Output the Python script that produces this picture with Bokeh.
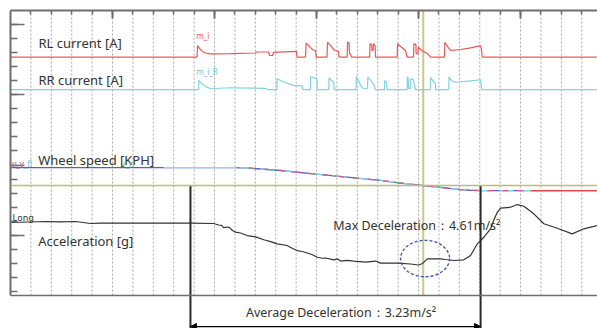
from bokeh.plotting import figure
from bokeh.models import Range1d, LinearAxis, FixedTicker, Label, Arrow, NormalHead, Span
from bokeh.embed import file_html
from bokeh.resources import INLINE

# ---- data (time in grid divisions, values in divisions relative to channel baseline) ----
rl_t = [0, 9.14, 9.17, 9.26, 9.41, 9.56, 9.80, 10.78, 12.01, 12.06, 12.65, 12.70, 12.84, 12.89, 14.02, 14.04,
        14.46, 14.49, 14.61, 14.80, 14.95, 14.98, 15.51, 15.54, 15.69, 15.88, 16.08, 16.10, 16.50, 16.52, 16.59,
        16.62, 16.67, 16.72, 17.60, 17.62, 17.70, 17.72, 17.77, 17.79, 17.87, 17.89, 18.95, 18.97, 19.12, 19.36,
        19.44, 19.75, 19.77, 19.87, 19.88, 19.97, 19.98, 20.15, 20.43, 20.59, 21.27, 21.29, 21.42, 21.57, 22.06,
        22.55, 23.04, 23.09, 23.12, 28.8]
rl_current = [0, 0, 0.83, 0.62, 0.41, 0.30, 0.24, 0.26, 0.30, 0.37, 0.37, 0.12, 0.12, 0.34, 0.41, 0,
              0, 1.0, 0.83, 0.55, 0.44, 0, 0, 1.07, 0.83, 0.48, 0.41, 0, 0, 1.07, 1.05,
              0.26, 0.19, 0, 0, 0.96, 0.91, 0.48, 0.48, 0.96, 0.83, 0, 0, 0.96, 0.76, 0.48,
              0, 0, 0.96, 0.91, 0.26, 0.26, 0.71, 0.48, 0.26, 0, 0, 1.07, 0.76, 0.48, 0.55,
              0.66, 0.83, 0.48, 0, 0]

rr_t = [0, 9.22, 9.23, 9.36, 9.56, 9.80, 10.78, 11.76, 12.50, 12.66, 13.06, 13.07, 13.33, 13.87, 14.30, 14.31,
        14.36, 14.70, 14.71, 14.78, 15.02, 15.03, 15.60, 15.61, 15.74, 15.85, 15.86, 16.94, 16.95, 17.06, 17.16,
        17.30, 17.50, 17.51, 17.65, 17.79, 17.89, 18.33, 18.34, 18.43, 18.46, 19.44, 19.45, 19.49, 19.51, 19.61,
        19.62, 19.66, 19.72, 19.75, 19.85, 20.58, 20.59, 20.69, 20.83, 20.84, 21.48, 21.49, 21.57, 21.72, 22.06,
        22.55, 23.04, 23.06, 23.09, 28.8]
rr_current = [0, 0, 0.66, 0.45, 0.24, 0.07, 0.14, 0.12, 0.09, 0, 0, 0.78, 0.59, 0.31, 0.27, 0.07,
              0, 0, 0.95, 0.88, 0.78, 0, 0, 0.86, 0.66, 0.52, 0, 0, 0.95, 0.66, 0.31,
              0.07, 0.07, 0.90, 0.66, 0.42, 0, 0, 0.66, 0.52, 0, 0, 0.90, 0.88, 0.09, 0.09,
              0.78, 0.73, 0.78, 0.66, 0, 0, 0.86, 0.66, 0.45, 0, 0, 0.90, 0.73, 0.54, 0.57,
              0.63, 0.71, 0.45, 0, 0]

ws_t = [0, 7.5, 11.08, 11.76, 13.24, 14.85, 16.50, 18.14, 19.02, 20.18, 21.41, 22.06, 22.55, 23.04, 25.5, 28.8]
wheel_speed = [1.28, 1.28, 1.28, 1.23, 1.07, 0.83, 0.59, 0.36, 0.19, 0, -0.19, -0.29, -0.34, -0.36, -0.36, -0.36]

acc_t = [0, 1.72, 2.45, 3.19, 3.92, 4.41, 6.37, 8.82, 9.95, 10.20, 10.35, 10.44, 10.69, 10.80, 10.88, 11.03,
         11.27, 11.60, 12.01, 12.42, 12.75, 13.07, 13.56, 13.73, 14.05, 14.30, 14.46, 14.80, 15.03, 15.30, 15.44,
         15.85, 16.03, 16.18, 16.50, 16.83, 17.40, 17.90, 18.14, 18.96, 19.61, 20.0, 20.20, 20.43, 21.08, 21.32,
         21.73, 22.22, 22.55, 22.88, 23.20, 23.53, 23.68, 23.86, 24.02, 24.51, 24.84, 25.16, 25.65, 26.14, 26.80,
         27.53, 28.10, 28.76]
acceleration = [0, 0.07, 0.04, 0.07, -0.07, -0.04, -0.04, -0.04, -0.07, -0.18, -0.21, -0.36, -0.32, -0.45, -0.57,
                -0.69, -0.75, -0.93, -1.03, -1.23, -1.36, -1.52, -1.64, -1.78, -2.0, -2.07, -2.14, -2.30, -2.48,
                -2.55, -2.53, -2.66, -2.60, -2.75, -2.70, -2.76, -2.82, -2.75, -2.90, -2.90, -2.96, -3.03, -2.92,
                -2.59, -2.59, -2.64, -2.71, -2.66, -2.35, -1.52, -1.05, -0.45, 0.14, 0.73, 1.02, 1.09, 1.28, 1.16,
                0.62, -0.09, -0.41, -0.81, -0.45, -0.21]

# ---- layout constants ----
RL_BASE = 16.69
RR_BASE = 14.37
WS_ZERO = 7.54
ACC_BASE = 4.90
Y_TOP = 20.02          # top axis
Y_BOTTOM_AXIS = -0.31  # bottom axis line
Y_MIN = -2.66          # bottom of page (annotation area)
X_MAX = 28.77

grid_x = list(range(1, 29))
top_major = [5, 10, 15, 20, 25]
left_major = [4, 9, 14, 19]
left_minor = list(range(0, 20))

cursor_t = 20.23
avg_start_t = 8.82
avg_end_t = 23.04
max_decel_text = "Max Deceleration\uff1a4.61m/s\u00b2"
avg_decel_text = "Average Deceleration\uff1a3.23m/s\u00b2"

FONT = "Noto Sans"
AX = "#6e6e6e"

p = figure(width=597, height=328, x_range=Range1d(0, X_MAX), y_range=Range1d(Y_MIN, Y_TOP),
           output_backend="svg", toolbar_location=None, x_axis_location="above",
           min_border_left=10, min_border_right=0, min_border_top=10, min_border_bottom=0)
p.outline_line_color = None
p.background_fill_color = "white"
p.border_fill_color = "white"
p.xgrid.visible = False
p.ygrid.visible = False


def style_axis(ax, minor_ticks, tick_len, line_color, tick_width, bounds=None):
    ax.ticker = FixedTicker(ticks=[], minor_ticks=minor_ticks)
    ax.major_tick_in = 0
    ax.major_tick_out = 0
    ax.minor_tick_in = tick_len
    ax.minor_tick_out = 0
    ax.major_label_standoff = 0
    ax.axis_label_standoff = 0
    ax.axis_line_color = line_color
    ax.axis_line_width = 2
    ax.minor_tick_line_color = AX
    ax.minor_tick_line_width = tick_width
    if bounds is not None:
        ax.bounds = bounds


# top axis: long ticks every 5 divisions, short ticks every division
style_axis(p.xaxis[0], top_major, 8, AX, 2)
top2 = LinearAxis()
style_axis(top2, grid_x, 4, None, 1.5)
p.add_layout(top2, "above")

# left axis: long ticks every 5, short every unit
style_axis(p.yaxis[0], left_major, 14, AX, 1.5, bounds=(Y_BOTTOM_AXIS, Y_TOP))
left2 = LinearAxis()
style_axis(left2, left_minor, 7, None, 1.5, bounds=(Y_BOTTOM_AXIS, Y_TOP))
p.add_layout(left2, "left")

# dashed vertical grid (between bottom axis and top axis)
p.segment(x0=grid_x, y0=[Y_BOTTOM_AXIS] * len(grid_x), x1=grid_x, y1=[Y_TOP] * len(grid_x),
          line_color="#a8a8a8", line_dash="2 2", line_width=1, level="underlay")

# bottom axis line
p.add_layout(Span(location=Y_BOTTOM_AXIS, dimension="width", line_color=AX, line_width=1.5))

# zero line of wheel speed and cursor
p.add_layout(Span(location=WS_ZERO, dimension="width", line_color="#bdbd7a", line_width=1.5))
p.segment(x0=[cursor_t], y0=[Y_BOTTOM_AXIS], x1=[cursor_t], y1=[Y_TOP], line_color="#c9c98e", line_width=2)

# currents
p.line(rl_t, [RL_BASE + v for v in rl_current], line_color="#ee5656", line_width=1.2)
p.line(rr_t, [RR_BASE + v for v in rr_current], line_color="#7fd3df", line_width=1.2)

# wheel speeds (four overlapping channels)
ws_y = [WS_ZERO + v for v in wheel_speed]
p.line(ws_t, ws_y, line_color="#5b5bd6", line_width=1.3)
p.line(ws_t[1:3], ws_y[1:3], line_color="#8fd8e4", line_width=1.3)
p.line(ws_t[2:], ws_y[2:], line_color="#8fd8e4", line_width=1.3, line_dash="14 10")
p.line(ws_t[2:-1], ws_y[2:-1], line_color="#e05a88", line_width=1.3, line_dash="6 9", line_dash_offset=3)
p.line(ws_t[2:-2], ws_y[2:-2], line_color="#5cb85c", line_width=1.3, line_dash="3 18", line_dash_offset=8)
p.line(ws_t[-2:], ws_y[-2:], line_color="#ee4444", line_width=1.3)

# acceleration
p.line(acc_t, [ACC_BASE + v for v in acceleration], line_color="#333333", line_width=1.2)

# max-deceleration ellipse
p.ellipse(x=[20.32], y=[2.33], width=[2.4], height=[2.6], fill_color=None,
          line_color="#3b54a8", line_dash="3 2", line_width=1.3)

# average-deceleration markers
p.segment(x0=[avg_start_t, avg_end_t], y0=[WS_ZERO, WS_ZERO], x1=[avg_start_t, avg_end_t], y1=[Y_MIN, Y_MIN],
          line_color="#2a2a2a", line_width=2)
p.add_layout(Arrow(x_start=avg_start_t, y_start=-2.52, x_end=avg_end_t, y_end=-2.52,
                   start=NormalHead(size=6, fill_color="black", line_color="black"),
                   end=NormalHead(size=6, fill_color="black", line_color="black"),
                   line_color="black", line_width=1.3))


def lab(x, y, text, size="13px", color="#333333", align="left"):
    p.add_layout(Label(x=x, y=y, text=text, text_font=FONT, text_font_size=size, text_color=color,
                       text_baseline="middle", text_align=align))


lab(1.37, 17.67, "RL current [A]")
lab(1.37, 15.03, "RR current [A]")
lab(1.36, 9.37, "Wheel speed [KPH]")
lab(1.36, 3.55, "Acceleration [g]")
lab(15.82, 4.69, max_decel_text, size="12.5px")
lab(16.2, -1.50, avg_decel_text, size="12.5px", align="center")
lab(9.10, 18.24, "m_i", size="8px", color="#ee5656")
lab(9.10, 15.67, "m_i_R", size="8px", color="#6cc8d6")
lab(0.08, 9.13, "v_v_fl", size="8px", color="#6cc8d6")
lab(0.08, 9.13, "v_v", size="8px", color="#e0608a")
lab(5.44, 9.10, "v_rl", size="8px", color="#5cb85c")
lab(0.10, 5.26, "Long", size="9px", color="#333333")

open("out.html", "w").write(file_html(p, INLINE))
